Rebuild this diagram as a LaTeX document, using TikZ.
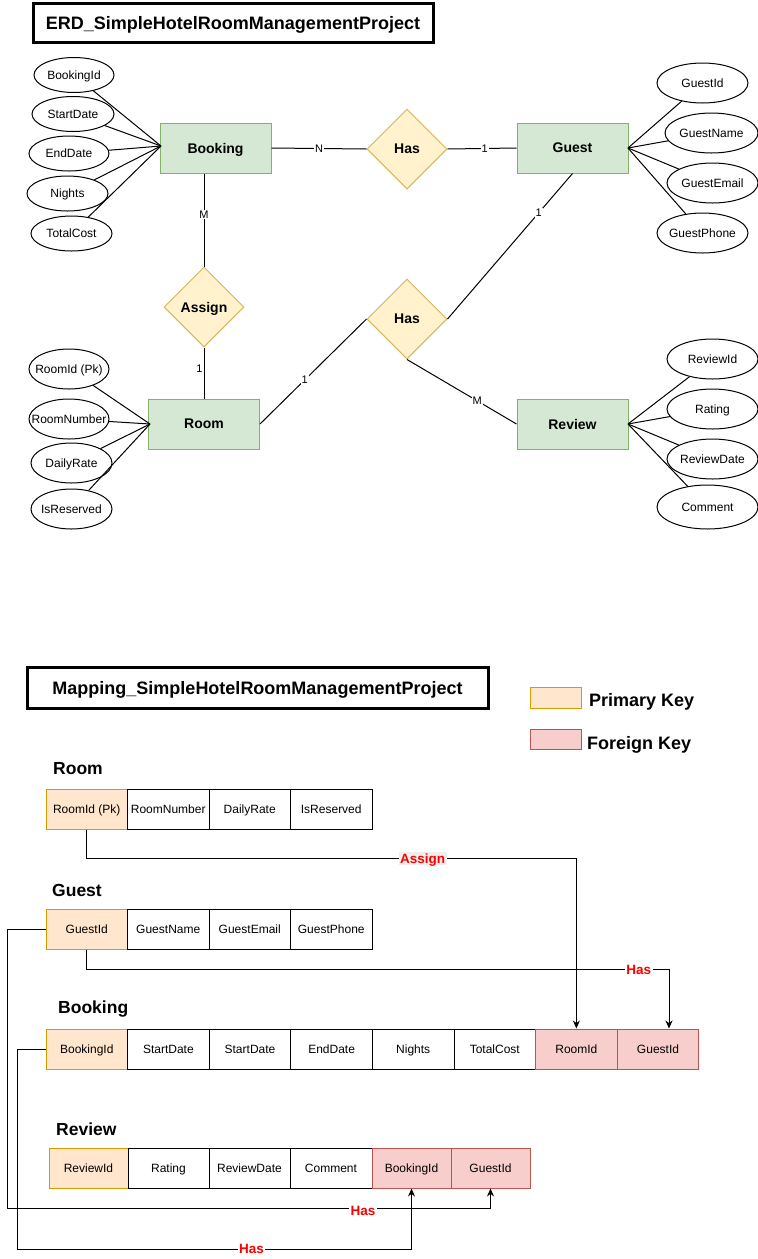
\documentclass[tikz,border=0pt]{standalone}
\usepackage{fontspec}
\setmainfont{Liberation Sans}
\usetikzlibrary{shapes.geometric,arrows.meta}
\definecolor{entfill}{HTML}{D5E8D4}
\definecolor{entdraw}{HTML}{82B366}
\definecolor{relfill}{HTML}{FFF2CC}
\definecolor{reldraw}{HTML}{D6B656}
\definecolor{pkfill}{HTML}{FFE6CC}
\definecolor{pkdraw}{HTML}{D79B00}
\definecolor{fkfill}{HTML}{F8CECC}
\definecolor{fkdraw}{HTML}{B85450}
\definecolor{lblred}{HTML}{FF0000}
\definecolor{lblbg}{HTML}{EEEEEE}
\begin{document}
\begin{tikzpicture}[x=1pt,y=-1pt,
 every node/.style={inner sep=0pt,text depth=0pt},
 f12/.style={font=\fontsize{12}{14}\selectfont},
 entity/.style={draw=entdraw,fill=entfill,line width=1pt,minimum width=111pt,minimum height=50pt,font=\bfseries\fontsize{14}{16}\selectfont},
 rel/.style={diamond,aspect=1,draw=reldraw,fill=relfill,line width=1pt,minimum width=80pt,minimum height=80pt,font=\bfseries\fontsize{14}{16}\selectfont},
 attr/.style={ellipse,draw,line width=1pt,inner xsep=-12pt,inner ysep=-2pt,minimum width=80pt,minimum height=35pt,f12},
 card/.style={fill=white,inner sep=1pt,font=\fontsize{11}{13}\selectfont},
 ln/.style={line width=1pt},
 titlebox/.style={draw,line width=3pt,font=\bfseries\fontsize{18}{21}\selectfont},
 cell/.style={draw,line width=1pt,minimum height=40pt,minimum width=81.5pt,f12},
 pkcell/.style={cell,draw=pkdraw,fill=pkfill},
 fkcell/.style={cell,draw=fkdraw,fill=fkfill},
 tname/.style={anchor=west,font=\bfseries\fontsize{17.5}{20}\selectfont},
 legtext/.style={anchor=west,font=\bfseries\fontsize{18}{21}\selectfont},
 conn/.style={line width=1pt,-{Stealth[length=8pt,width=7pt]}},
 rlbl/.style={text=lblred,fill=white,inner sep=1.5pt,font=\bfseries\fontsize{13.5}{15}\selectfont},
]
\useasboundingbox[fill=white] (0,0) rectangle (758,1259);

% ---------------- ERD ----------------
\node[titlebox,minimum width=400pt,minimum height=39pt] (t1) at (233,22.5) {ERD\_SimpleHotelRoomManagementProject};

\node[entity] (bk) at (215.5,148) {Booking};
\node[entity] (gu) at (572.5,148) {Guest};
\node[entity] (rm) at (204,424) {Room};
\node[entity] (rv) at (572.5,424) {Review};

\node[rel] (has1) at (407,149) {Has};
\node[rel] (has2) at (407,319) {Has};
\node[rel] (asg) at (204,307) {Assign};

% Booking attributes
\node[attr] (ba1) at (74,75) {BookingId};
\node[attr,minimum width=82pt] (ba2) at (73,114) {StartDate};
\node[attr] (ba3) at (69,153.5) {EndDate};
\node[attr,minimum width=81pt] (ba4) at (67.5,193.5) {Nights};
\node[attr,minimum width=81pt] (ba5) at (71.5,233.5) {TotalCost};
\coordinate (bkc) at (161,146);
\foreach \a in {ba1,ba2,ba3,ba4,ba5} \draw[ln] (\a) -- (bkc);

% Guest attributes
\node[attr,minimum width=91pt,minimum height=40pt] (ga1) at (702.5,83) {GuestId};
\node[attr,minimum width=93pt,minimum height=40pt] (ga2) at (711.5,133) {GuestName};
\node[attr,minimum width=91pt,minimum height=40pt] (ga3) at (712.5,183) {GuestEmail};
\node[attr,minimum width=91pt,minimum height=40pt] (ga4) at (702.5,233) {GuestPhone};
\coordinate (guc) at (628,148);
\foreach \a in {ga1,ga2,ga3,ga4} \draw[ln] (\a) -- (guc);

% Room attributes
\node[attr,minimum height=40pt] (ra1) at (69,369) {RoomId (Pk)};
\node[attr,minimum height=40pt] (ra2) at (69,419) {RoomNumber};
\node[attr,minimum width=81pt,minimum height=40pt] (ra3) at (71.5,463) {DailyRate};
\node[attr,minimum width=81pt,minimum height=40pt] (ra4) at (71.5,509) {IsReserved};
\coordinate (rmc) at (150,424);
\foreach \a in {ra1,ra2,ra3,ra4} \draw[ln] (\a) -- (rmc);

% Review attributes
\node[attr,minimum width=91pt,minimum height=40pt] (va1) at (712.5,359) {ReviewId};
\node[attr,minimum width=91pt,minimum height=40pt] (va2) at (712.5,409) {Rating};
\node[attr,minimum width=91pt,minimum height=40pt] (va3) at (712.5,459) {ReviewDate};
\node[attr,minimum width=101pt,minimum height=44pt] (va4) at (707.5,507) {Comment};
\coordinate (rvc) at (628,424);
\foreach \a in {va1,va2,va3,va4} \draw[ln] (\a) -- (rvc);

% relationships
\draw[ln] (bk.east) -- node[card] (cN) {N} (has1.west);
\draw[ln] (has1.east) -- node[card,pos=0.54] (c1a) {1} (gu.west);
\draw[ln] (gu.south) -- node[card,pos=0.27] (c1b) {1} (has2.east);
\draw[ln] (has2.west) -- node[card,pos=0.58] (c1c) {1} (rm.east);
\draw[ln] (has2.south) -- node[card,pos=0.64] (cM1) {M} (rv.west);
\draw[ln] (asg.north |- bk.south) -- node[card,pos=0.44] (cM2) {M} (asg.north);
\draw[ln] (asg.south) -- node[pos=0.42,anchor=east,xshift=-1pt,font=\fontsize{11}{13}\selectfont] (c1d) {1} (rm.north);

% ---------------- Mapping ----------------
\node[titlebox,minimum width=461pt,minimum height=41pt] (t2) at (257.5,687.5) {Mapping\_SimpleHotelRoomManagementProject};

\node[draw=pkdraw,fill=pkfill,line width=1pt,minimum width=51pt,minimum height=21pt] (lpk) at (555.5,697.5) {};
\node[legtext] (lpkt) at (589,700) {Primary Key};
\node[draw=fkdraw,fill=fkfill,line width=1pt,minimum width=51pt,minimum height=20pt] (lfk) at (555.5,739) {};
\node[legtext] (lfkt) at (587,743) {Foreign Key};

% Room table
\node[tname] (tRoom) at (53,768) {Room};
\node[pkcell] (rpk) at (86.75,809) {RoomId (Pk)};
\node[cell] (rc2) at (168.25,809) {RoomNumber};
\node[cell] (rc3) at (249.75,809) {DailyRate};
\node[cell] (rc4) at (331.25,809) {IsReserved};

% Guest table
\node[tname] (tGuest) at (52,890) {Guest};
\node[pkcell] (gpk) at (86.75,929) {GuestId};
\node[cell] (gc2) at (168.25,929) {GuestName};
\node[cell] (gc3) at (249.75,929) {GuestEmail};
\node[cell] (gc4) at (331.25,929) {GuestPhone};

% Booking table
\node[tname] (tBooking) at (58,1007) {Booking};
\node[pkcell,minimum width=81.6pt] (bpk) at (86.8,1049) {BookingId};
\node[cell,minimum width=81.6pt] (bc2) at (168.4,1049) {StartDate};
\node[cell,minimum width=81.6pt] (bc3) at (250,1049) {StartDate};
\node[cell,minimum width=81.6pt] (bc4) at (331.6,1049) {EndDate};
\node[cell,minimum width=81.6pt] (bc5) at (413.2,1049) {Nights};
\node[cell,minimum width=81.6pt] (bc6) at (494.8,1049) {TotalCost};
\node[fkcell,minimum width=81.6pt] (bfk1) at (576.4,1049) {RoomId};
\node[fkcell,minimum width=81.6pt] (bfk2) at (658,1049) {GuestId};

% Review table
\node[tname] (tReview) at (56,1129) {Review};
\node[pkcell,minimum width=79pt] (vpk) at (88.5,1168) {ReviewId};
\node[cell,minimum width=81pt] (vc2) at (168.5,1168) {Rating};
\node[cell,minimum width=81pt] (vc3) at (249.5,1168) {ReviewDate};
\node[cell,minimum width=82pt] (vc4) at (331,1168) {Comment};
\node[fkcell,minimum width=79pt] (rfk1) at (411.5,1168) {BookingId};
\node[fkcell,minimum width=79pt] (rfk2) at (490.5,1168) {GuestId};

% connectors
\draw[conn] (rpk.south) -- ++(0,29) -| node[rlbl,fill=lblbg,pos=0.343] (lA) {Assign} (bfk1.north);
\draw[conn] (gpk.south) -- ++(0,20) -| node[rlbl,pos=0.474] (lH1) {Has} ([xshift=11pt]bfk2.north);
\draw[conn] (gpk.west) -- ++(-38,0) -- ++(0,279) -| node[rlbl,pos=0.368,yshift=-3pt] (lH2) {Has} (rfk2.south);
\draw[conn] (bpk.west) -- ++(-28,0) -- ++(0,200) -| node[rlbl,pos=0.297] (lH3) {Has} (rfk1.south);
\end{tikzpicture}
\end{document}
